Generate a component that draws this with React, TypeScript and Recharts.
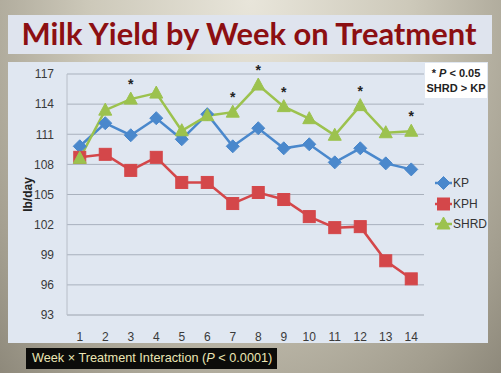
import React from 'react';
import { LineChart, Line, XAxis, YAxis, CartesianGrid, Legend, LabelList } from 'recharts';

const weeks = ['1', '2', '3', '4', '5', '6', '7', '8', '9', '10', '11', '12', '13', '14'];
const kp = [109.8, 112.1, 110.9, 112.6, 110.5, 113.0, 109.8, 111.6, 109.6, 110.0, 108.2, 109.6, 108.1, 107.5];
const kph = [108.7, 109.0, 107.4, 108.7, 106.2, 106.2, 104.1, 105.2, 104.5, 102.8, 101.7, 101.8, 98.4, 96.6];
const shrd = [108.6, 113.4, 114.5, 115.1, 111.35, 112.85, 113.2, 115.9, 113.75, 112.55, 110.9, 113.85, 111.15, 111.3];
const significant = [false, false, true, false, false, false, true, true, true, false, false, true, false, true];
const yTicks = [93, 96, 99, 102, 105, 108, 111, 114, 117];

const data = weeks.map((w, i) => ({ week: w, KP: kp[i], KPH: kph[i], SHRD: shrd[i], sig: significant[i] }));

const BLUE = '#4a88cc';
const RED = '#d4474a';
const GREEN = '#9cc24e';
const FONT = 'Liberation Sans, Arial, sans-serif';

const Diamond = (props: any) => {
  const { cx, cy } = props;
  if (cx == null || cy == null) return null;
  const r = 6.5;
  return <polygon points={`${cx},${cy - r} ${cx + r},${cy} ${cx},${cy + r} ${cx - r},${cy}`} fill={BLUE} stroke={BLUE} />;
};
const Square = (props: any) => {
  const { cx, cy } = props;
  if (cx == null || cy == null) return null;
  const r = 6;
  return <rect x={cx - r} y={cy - r} width={2 * r} height={2 * r} fill={RED} stroke={RED} />;
};
const Triangle = (props: any) => {
  const { cx, cy } = props;
  if (cx == null || cy == null) return null;
  return <polygon points={`${cx},${cy - 7} ${cx + 6.5},${cy + 5} ${cx - 6.5},${cy + 5}`} fill={GREEN} stroke={GREEN} />;
};

const markerFor = (name: string, cx: number, cy: number) => {
  if (name === 'KP') return <Diamond cx={cx} cy={cy} />;
  if (name === 'KPH') return <Square cx={cx} cy={cy} />;
  return <Triangle cx={cx} cy={cy} />;
};

const renderLegend = (props: any) => {
  const { payload } = props;
  return (
    <div>
      {(payload || []).map((p: any) => (
        <div key={p.value} style={{ display: 'flex', alignItems: 'center', height: 20.5 }}>
          <svg width={17} height={14}>
            <line x1={0} y1={7} x2={17} y2={7} stroke={p.color} strokeWidth={2.5} />
            {markerFor(p.value, 8.5, 7)}
          </svg>
          <span style={{ fontFamily: FONT, fontSize: 12, color: '#333', marginLeft: 1 }}>{p.value}</span>
        </div>
      ))}
    </div>
  );
};

const renderStar = (props: any) => {
  const { x, y, index } = props;
  if (!significant[index]) return null;
  return (
    <text x={x} y={y - 10} textAnchor="middle" fontSize={14} fontWeight="bold" fill="#222" fontFamily={FONT}>*</text>
  );
};

export default function App() {
  return (
    <div style={{ position: 'absolute', left: 0, top: 0, width: 501, height: 373, overflow: 'hidden',
      background: 'radial-gradient(ellipse at 50% 0%, #e8e5da 0%, #cdc9ba 45%, #a29d8e 85%, #8e897b 100%)' }}>
      <div style={{ position: 'absolute', left: 8, top: 15, width: 484, height: 39, background: '#dfe4ee' }} />
      <svg style={{ position: 'absolute', left: 0, top: 0 }} width={501} height={60}>
        <text x={249} y={45} textAnchor="middle" fontSize={30} fontWeight="bold" fill="#8c0f12"
          fontFamily="Lato, sans-serif" textLength={455} lengthAdjust="spacingAndGlyphs">Milk Yield by Week on Treatment</text>
      </svg>
      <div style={{ position: 'absolute', left: 8, top: 62, width: 480, height: 281, background: '#e0e7f1' }} />
      <div style={{ position: 'absolute', left: 0, top: 0 }}>
        <LineChart width={501} height={373} data={data} margin={{ top: 74, right: 77, bottom: 28, left: 27 }}>
          <CartesianGrid vertical={false} stroke="#a9b1bd" strokeWidth={1} />
          <XAxis dataKey="week" axisLine={{ stroke: '#b8bec8' }} tickLine={false} height={30} tickMargin={11}
            padding={{ left: 12.75, right: 12.75 }}
            tick={{ fontSize: 12, fill: '#3a3a3a', fontFamily: FONT }} interval={0} />
          <YAxis domain={[93, 117]} ticks={yTicks} axisLine={{ stroke: '#b8bec8' }} tickLine={false} width={40} tickMargin={7}
            tick={{ fontSize: 12, fill: '#3a3a3a', fontFamily: FONT }}
            label={{ value: 'lb/day', angle: -90, position: 'insideLeft', offset: 1, style: { fontSize: 12, fontWeight: 'bold', fill: '#222', fontFamily: FONT, textAnchor: 'middle' } }} />
          <Line type="linear" dataKey="KP" stroke={BLUE} strokeWidth={2.5} dot={<Diamond />} isAnimationActive={false} />
          <Line type="linear" dataKey="KPH" stroke={RED} strokeWidth={2.5} dot={<Square />} isAnimationActive={false} />
          <Line type="linear" dataKey="SHRD" stroke={GREEN} strokeWidth={2.5} dot={<Triangle />} isAnimationActive={false}>
            <LabelList dataKey="SHRD" content={renderStar} />
          </Line>
          <Legend layout="horizontal" verticalAlign="middle" align="center" content={renderLegend}
            wrapperStyle={{ position: 'absolute', left: 435, top: 173, width: 66 }} />
        </LineChart>
      </div>
      <div style={{ position: 'absolute', left: 425, top: 63, width: 62, height: 35, background: '#ffffff',
        fontFamily: FONT, fontSize: 11, fontWeight: 'bold', color: '#222', lineHeight: '15px', textAlign: 'center', paddingTop: 3, boxSizing: 'border-box' }}>
        <div>* <i>P</i> &lt; 0.05</div>
        <div>SHRD &gt; KP</div>
      </div>
      <div style={{ position: 'absolute', left: 26, top: 348, width: 251, height: 21, background: '#0c0c0a',
        fontFamily: FONT, fontSize: 12.7, color: '#ebe6b4', lineHeight: '21px', paddingLeft: 6, boxSizing: 'border-box', whiteSpace: 'nowrap' }}>
        Week × Treatment Interaction (<i>P</i> &lt; 0.0001)
      </div>
    </div>
  );
}
